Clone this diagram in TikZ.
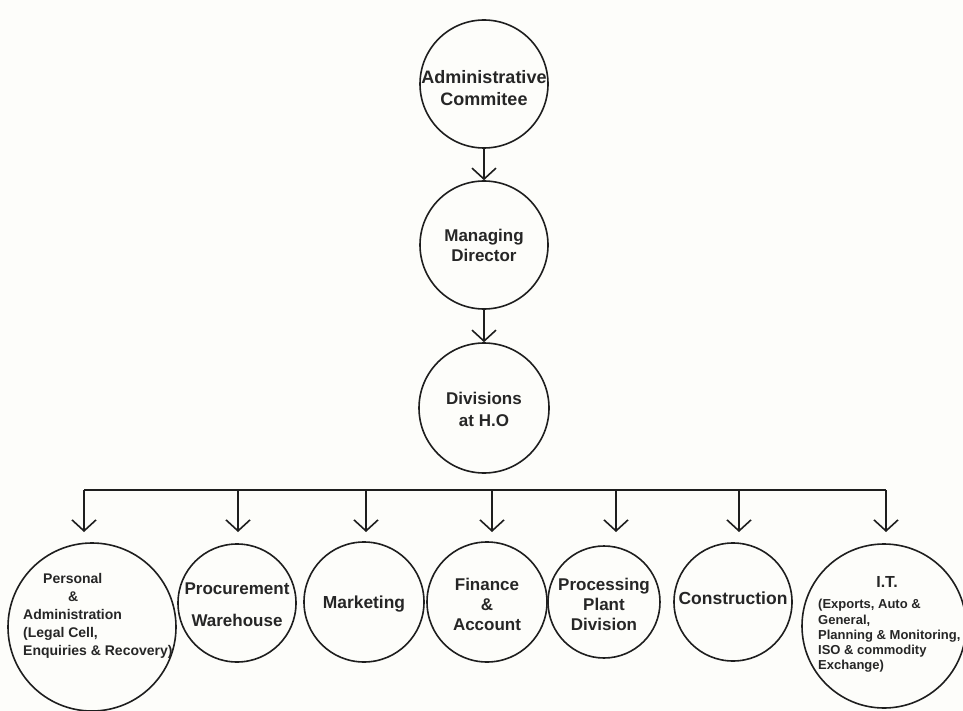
\documentclass[tikz,border=0pt]{standalone}
\usepackage{fontspec}
\setmainfont{Liberation Sans}
\usetikzlibrary{arrows.meta}
\definecolor{paper}{HTML}{FDFDFA}
\definecolor{ink}{HTML}{262626}
\definecolor{rule}{HTML}{1E1E1E}
\begin{document}
\begin{tikzpicture}[x=1pt,y=-1pt,
  org/.style={circle, draw=rule, line width=1.6pt, inner sep=0pt},
  lbl/.style={text=ink, align=center, inner sep=0pt},
  link/.style={draw=rule, line width=1.6pt,
    -{Straight Barb[length=11pt,width=24pt,line width=1.6pt]}},
  bus/.style={draw=rule, line width=1.6pt}
]
% canvas
\fill[paper] (0,0) rectangle (963,711);
\useasboundingbox (0,0) rectangle (963,711);

% top of the hierarchy
\node[org, minimum size=128pt] (admin) at (484,84) {};
\node[lbl, font=\bfseries\fontsize{18}{21.5}\selectfont] (adminT) at (484,88) {Administrative\\Commitee};

\node[org, minimum size=128pt] (md) at (484,245) {};
\node[lbl, font=\bfseries\fontsize{17}{20}\selectfont] (mdT) at (484,245) {Managing\\Director};

\node[org, minimum size=130pt] (div) at (484,408) {};
\node[lbl, font=\bfseries\fontsize{17}{22}\selectfont] (divT) at (484,409) {Divisions\\at H.O};

\draw[link] (admin) -- (md);
\draw[link] (md) -- (div);

% distribution bar and drops
\coordinate (b1) at (84,490);  \coordinate (t1) at (84,532);
\coordinate (b2) at (238,490); \coordinate (t2) at (238,532);
\coordinate (b3) at (366,490); \coordinate (t3) at (366,532);
\coordinate (b4) at (492,490); \coordinate (t4) at (492,532);
\coordinate (b5) at (616,490); \coordinate (t5) at (616,532);
\coordinate (b6) at (739,490); \coordinate (t6) at (739,532);
\coordinate (b7) at (886,490); \coordinate (t7) at (886,532);
\draw[bus] (b1) -- (b7);
\foreach \i in {1,...,7} { \draw[link] (b\i) -- (t\i); }

% divisions
\node[org, minimum size=168pt] (pers) at (92,627) {};
\node[lbl, align=left, anchor=west, font=\bfseries\fontsize{14}{18}\selectfont] (persT) at (23,616)
  {\hspace*{20pt}Personal\\\hspace*{45pt}\&\\Administration\\(Legal Cell,\\Enquiries \& Recovery)};

\node[org, minimum size=118pt] (proc) at (237,603) {};
\node[lbl, font=\bfseries\fontsize{17}{32}\selectfont] (procT) at (237,605) {Procurement\\Warehouse};

\node[org, minimum size=120pt] (mkt) at (364,602) {};
\node[lbl, font=\bfseries\fontsize{17.4}{20}\selectfont] (mktT) at (364,604) {Marketing};

\node[org, minimum size=120pt] (fin) at (487,602) {};
\node[lbl, font=\bfseries\fontsize{17}{20}\selectfont] (finT) at (487,604) {Finance\\\&\\Account};

\node[org, minimum size=112pt] (prc) at (604,602) {};
\node[lbl, font=\bfseries\fontsize{17}{20}\selectfont] (prcT) at (604,604) {Processing\\Plant\\Division};

\node[org, minimum size=118pt] (cons) at (733,602) {};
\node[lbl, font=\bfseries\fontsize{17.5}{20}\selectfont] (consT) at (733,598) {Construction};

\node[org, minimum size=164pt] (it) at (884,626) {};
\node[lbl, font=\bfseries\fontsize{16}{19}\selectfont] (itHead) at (887,582) {I.T.};
\node[lbl, align=left, anchor=west, font=\bfseries\fontsize{13}{15.3}\selectfont] (itBody) at (818,636)
  {(Exports, Auto \&\\General,\\Planning \& Monitoring,\\ISO \& commodity\\Exchange)};
\end{tikzpicture}
\end{document}
